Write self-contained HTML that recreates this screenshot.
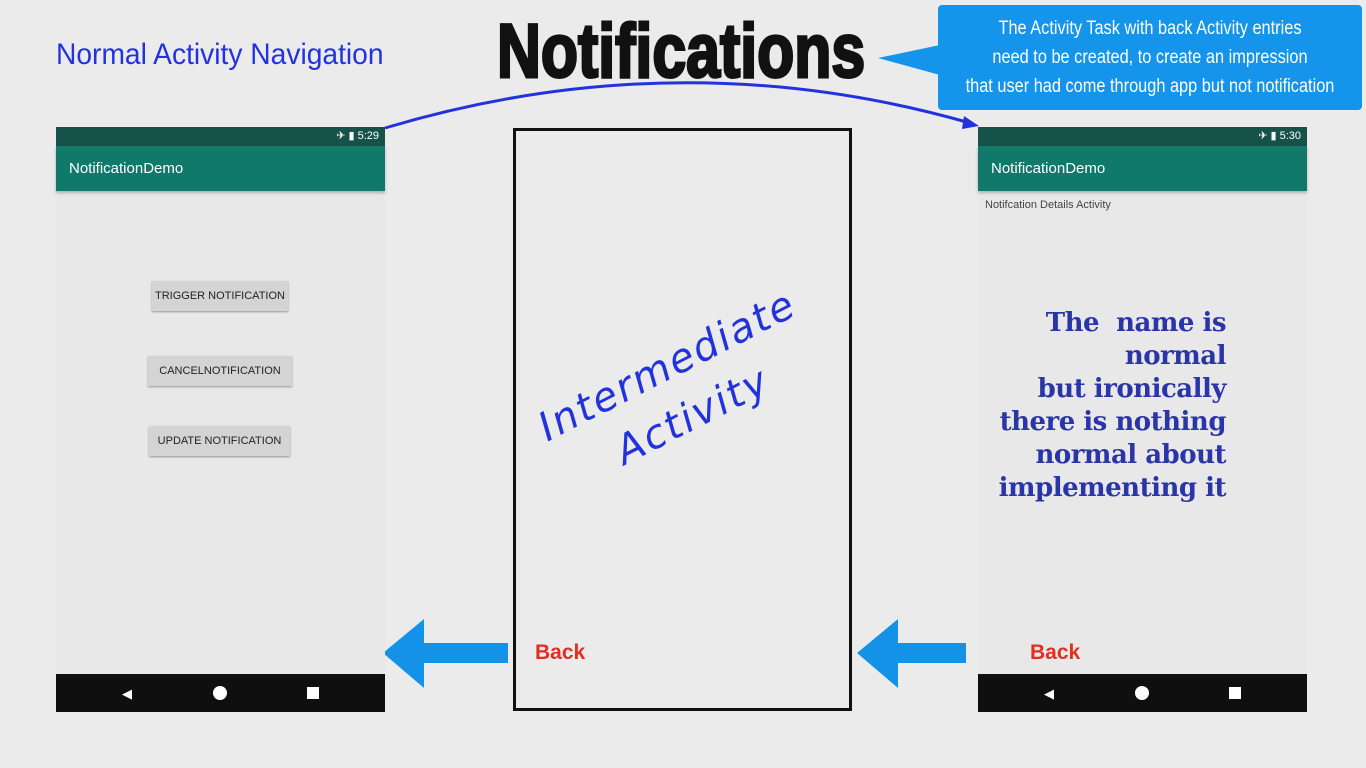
<!DOCTYPE html>
<html><head><meta charset="utf-8"><style>
*{margin:0;padding:0;box-sizing:border-box}
body{width:1366px;height:768px;background:#ebebeb;position:relative;overflow:hidden;font-family:"Liberation Sans",sans-serif}
.a{position:absolute}
.phone{position:absolute;top:127px;width:329px;height:585px;background:#e8e8e8}
.sb{position:absolute;left:0;top:0;width:100%;height:19px;background:#16524a;color:#fff;font-size:11px;text-align:right;padding-right:6px;line-height:19px}
.ab{position:absolute;left:0;top:19px;width:100%;height:45px;background:#10796a;color:#fff;font-size:15px;padding-left:13px;line-height:45px;box-shadow:0 2px 3px rgba(0,0,0,.25)}
.nav{position:absolute;left:0;bottom:0;width:100%;height:38px;background:#0f0f0f}
.btn{position:absolute;background:#d4d4d4;font-size:11px;color:#222;text-align:center;line-height:30px;height:30px;box-shadow:0 1px 2px rgba(0,0,0,.35)}
.back{position:absolute;color:#e03020;font-size:21px;font-weight:bold}
</style></head><body>
<div class="a" style="left:56px;top:38px;font-size:30px;color:#2233dd;transform:scaleX(.94);transform-origin:left;white-space:nowrap">Normal Activity Navigation</div>
<div class="a" style="left:497px;top:8px;font-size:76px;font-weight:bold;color:#111;transform:scaleX(.80);transform-origin:left;white-space:nowrap;-webkit-text-stroke:3px #111">Notifications</div>
<div class="a" style="left:938px;top:5px;width:424px;height:105px;background:#1494ea;border-radius:4px"></div>
<svg class="a" style="left:0;top:0" width="1366" height="768">
<polygon points="878,58 940,45 940,75" fill="#1494ea"/>
<path d="M385,128 Q680,40 970,123" fill="none" stroke="#2233dd" stroke-width="3"/>
<polygon points="979,126 964,116 962,129" fill="#2233dd"/>
<polygon points="383,653 424,619 424,643 508,643 508,663 424,663 424,688" fill="#1492e8"/>
<polygon points="857,653 898,619 898,643 966,643 966,663 898,663 898,688" fill="#1492e8"/>
</svg>
<div class="a" style="left:1150px;top:14px;color:#fff;font-size:19px;line-height:29px;text-align:center;white-space:nowrap;transform:translateX(-50%) scaleX(.86)">The Activity Task with back Activity entries<br>need to be created, to create an impression<br>that user had come through app but not notification</div>

<div class="phone" style="left:56px">
<div class="sb">✈ ▮ 5:29</div><div class="ab">NotificationDemo</div>
<div class="btn" style="left:96px;top:154px;width:136px">TRIGGER NOTIFICATION</div>
<div class="btn" style="left:92px;top:229px;width:144px">CANCELNOTIFICATION</div>
<div class="btn" style="left:93px;top:299px;width:141px">UPDATE NOTIFICATION</div>
<div class="nav"><span class="a" style="left:66px;top:12px;color:#fff;font-size:13px">◀</span><span class="a" style="left:157px;top:12px;width:14px;height:14px;border-radius:50%;background:#fff"></span><span class="a" style="left:251px;top:13px;width:12px;height:12px;background:#fff"></span></div>
</div>

<div class="a" style="left:513px;top:128px;width:339px;height:583px;border:3px solid #111"></div>
<div class="a" style="left:530px;top:335px;width:300px;text-align:center;color:#2233dd;font-size:40px;font-style:italic;line-height:56px;transform:rotate(-27deg);font-family:'DejaVu Sans',sans-serif;letter-spacing:2px">Intermediate<br>Activity</div>
<div class="back" style="left:535px;top:641px">Back</div>

<div class="phone" style="left:978px">
<div class="sb">✈ ▮ 5:30</div><div class="ab">NotificationDemo</div>
<div class="a" style="left:7px;top:72px;font-size:11px;color:#444">Notifcation Details Activity</div>
<div class="a" style="left:0;top:180px;width:248px;text-align:right;color:#2a35a8;font-size:26px;line-height:33px;font-weight:bold;font-family:'DejaVu Serif',serif;letter-spacing:-0.5px">The&nbsp; name is<br>normal<br>but ironically<br>there is nothing<br>normal about<br>implementing it</div>
<div class="back" style="left:52px;top:514px">Back</div>
<div class="nav"><span class="a" style="left:66px;top:12px;color:#fff;font-size:13px">◀</span><span class="a" style="left:157px;top:12px;width:14px;height:14px;border-radius:50%;background:#fff"></span><span class="a" style="left:251px;top:13px;width:12px;height:12px;background:#fff"></span></div>
</div>
</body></html>
